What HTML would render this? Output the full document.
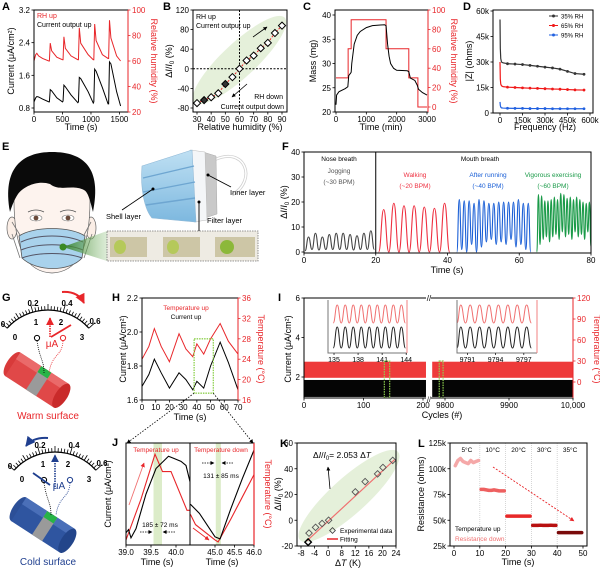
<!DOCTYPE html>
<html><head><meta charset="utf-8"><style>
html,body{margin:0;padding:0;background:#fff}
svg{display:block;font-family:"Liberation Sans",Arial,sans-serif}
</style></head><body>
<svg id="fig" width="600" height="570" viewBox="0 0 600 570" xmlns="http://www.w3.org/2000/svg">
<defs>
<marker id="ahK" viewBox="0 0 10 10" refX="9" refY="5" markerWidth="5" markerHeight="5" orient="auto"><path d="M0,0L10,5L0,10z" fill="#000"/></marker>
<marker id="ahR" viewBox="0 0 10 10" refX="9" refY="5" markerWidth="5" markerHeight="5" orient="auto"><path d="M0,0L10,5L0,10z" fill="#e8262a"/></marker>
<marker id="ahB" viewBox="0 0 10 10" refX="9" refY="5" markerWidth="5" markerHeight="5" orient="auto"><path d="M0,0L10,5L0,10z" fill="#1f3f8f"/></marker>
<linearGradient id="cone" x1="0" x2="1"><stop offset="0" stop-color="#2f7d22" stop-opacity="0.9"/><stop offset="1" stop-color="#8cbf7a" stop-opacity="0.3"/></linearGradient>
<linearGradient id="shell" x1="0" y1="0" x2="0" y2="1"><stop offset="0" stop-color="#bfe0f3"/><stop offset="1" stop-color="#7db8df"/></linearGradient>
</defs>

<g>
<text x="2" y="150" font-size="11" font-weight="bold">E</text>
<ellipse cx="12" cy="228" rx="5" ry="11" fill="#fbeee6" stroke="#666" stroke-width="0.7"/>
<ellipse cx="91" cy="228" rx="5" ry="11" fill="#fbeee6" stroke="#666" stroke-width="0.7"/>
<path d="M14,200 C14,252 28,272 52,273 C76,272 90,252 90,200 C90,185 72,178 52,178 C32,178 14,185 14,200Z" fill="#fdf3ee" stroke="#666" stroke-width="0.7"/>
<path d="M10,212 C2,168 22,152 52,152 C84,152 102,168 93,212 C90,200 88,192 84,190 C72,184 60,192 50,184 C38,180 24,186 18,194 C14,200 12,206 10,212Z" fill="#0a0a0a"/>
<path d="M28,212 Q36,208 44,212 M60,212 Q68,208 76,212" stroke="#555" fill="none" stroke-width="0.8"/>
<ellipse cx="36" cy="218" rx="6" ry="3" fill="#fff" stroke="#777" stroke-width="0.6"/>
<circle cx="36" cy="218" r="2.4" fill="#6b4a3a"/>
<ellipse cx="68" cy="218" rx="6" ry="3" fill="#fff" stroke="#777" stroke-width="0.6"/>
<circle cx="68" cy="218" r="2.4" fill="#6b4a3a"/>
<path d="M20,235 L12,222 M84,235 L91,222 M20,258 L12,234 M84,258 L92,234" stroke="#777" stroke-width="0.8" fill="none"/>
<path d="M19,236 C34,226 70,226 85,236 L82,258 C70,272 36,272 22,258 Z" fill="#a9d2ec" stroke="#555" stroke-width="0.8"/>
<path d="M21,242 C38,234 66,234 83,242 M21,250 C38,243 66,243 83,250 M22,258 C38,252 66,252 82,258" stroke="#556" stroke-width="1" fill="none"/>
<polygon points="63,247 107,231 107,261" fill="url(#cone)"/>
<circle cx="63" cy="247" r="3.5" fill="#3a8a25"/>
<rect x="107" y="231" width="151" height="30" fill="#eeebe3" stroke="#777" stroke-dasharray="1.5,1" stroke-width="0.8"/>
<rect x="110" y="237" width="37" height="20" fill="#cdc6a6"/>
<rect x="163" y="237" width="37" height="20" fill="#cdc6a6"/>
<rect x="215" y="237" width="40" height="20" fill="#cdc6a6"/>
<ellipse cx="120" cy="247" rx="6" ry="7" fill="#b5c95a"/>
<ellipse cx="173" cy="247" rx="6" ry="7" fill="#b5c95a"/>
<ellipse cx="227" cy="247" rx="7" ry="7" fill="#8cb83a"/>
<path d="M214,160 C245,145 258,180 232,195" stroke="#cfcfcf" stroke-width="3" fill="none"/>
<path d="M214,160 C245,145 258,180 232,195" stroke="#fff" stroke-width="1.5" fill="none"/>
<polygon points="203,152 216,156 217,214 205,218" fill="#c9c9c9" stroke="#aaa" stroke-width="0.5"/>
<polygon points="190,150 205,152 207,220 194,222" fill="#f4f6f8" stroke="#bbb" stroke-width="0.5"/>
<path d="M142,166 L192,150 L196,222 L152,218 C145,210 140,190 142,166Z" fill="url(#shell)" stroke="#8fb8d6" stroke-width="0.6"/>
<path d="M143,178 L194,166 M143,192 L195,182 M146,205 L195,198" stroke="#6ea6d1" stroke-width="1.4" fill="none"/>
<line x1="122" y1="210" x2="153" y2="189" stroke="#000" stroke-width="0.9"/><circle cx="153" cy="189" r="1.5" fill="#000"/>
<line x1="199" y1="202" x2="199" y2="231" stroke="#000" stroke-width="0.9"/><circle cx="199" cy="202" r="1.5" fill="#000"/>
<line x1="208" y1="175" x2="231" y2="187" stroke="#000" stroke-width="0.9"/><circle cx="208" cy="175" r="1.5" fill="#000"/>
<text x="106" y="219" font-size="7.5">Shell layer</text>
<text x="207" y="223" font-size="7.5">Filter layer</text>
<text x="230" y="195" font-size="7.5">Inner layer</text>
</g>

<g transform="translate(37,380) rotate(33)">
<ellipse cx="-29" cy="0" rx="6" ry="14" fill="#d83a3a"/>
<rect x="-29" y="-14" width="58" height="28" fill="#e04848"/>
<rect x="-29" y="-14" width="58" height="8" fill="#ea6a6a"/>
<rect x="-4" y="-14" width="12" height="28" fill="#9a9a9a"/>
<rect x="-4" y="-14" width="12" height="7" fill="#27b447"/>
<ellipse cx="29" cy="0" rx="6" ry="14" fill="#c92a2a"/>
</g>
<text x="48" y="419" font-size="10" fill="#e8262a" text-anchor="middle">Warm surface</text>
<g transform="translate(43,525) rotate(33)">
<ellipse cx="-29" cy="0" rx="6" ry="14" fill="#2c4f97"/>
<rect x="-29" y="-14" width="58" height="28" fill="#2f55a0"/>
<rect x="-29" y="-14" width="58" height="8" fill="#4a6fb8"/>
<rect x="-4" y="-14" width="12" height="28" fill="#9a9a9a"/>
<rect x="-4" y="-14" width="12" height="7" fill="#27b447"/>
<ellipse cx="29" cy="0" rx="6" ry="14" fill="#23458a"/>
</g>
<text x="48" y="565" font-size="10" fill="#1f3f8f" text-anchor="middle">Cold surface</text>
</svg>
<script>
const aTime=[0,30,50,80,150,260,270,285,310,400,500,510,525,550,650,770,780,795,820,950,1040,1050,1065,1090,1200,1300,1310,1325,1350,1450,1520];
const aCurrent=[0.95,1.05,1.08,1.07,1.02,0.95,0.95,1.25,1.22,1.05,0.95,0.97,1.36,1.32,1.12,0.93,0.95,1.55,1.52,1.2,0.92,0.95,1.75,1.7,1.3,0.9,0.9,1.93,1.88,1.2,0.85];
const aRH=[60,65,66,64,62,60,60,74,68,63,61,61,79,70,64,61,61,86,74,65,61,61,89,76,65,62,62,92,78,64,60];
const bRH=[30,35,40,45,50,55,60,65,70,75,80,85,90];
const bChange=[-70,-64,-58,-50,-31,-17,0,17,27,42,53,73,88];
const cRhT=[0,400,500,1650,2400,2700,3000];
const cRhV=[30,60,90,60,30,0];
const cMassT=[0,20,100,300,390,420,480,500,520,600,700,800,1000,1200,1600,1650,1700,1750,1800,1900,2000,2350,2400,2450,2600,2680,2720,2850,3000];
const cMass=[21.5,23.5,24.2,24.8,25.2,27.5,28,28.2,30,34,35.8,36.6,37.4,37.8,38,37.8,34,31.5,30,29,28.6,28.5,28.3,27,26.5,25.5,24.7,24,23.5];
const dFreq=[100,2000,5000,10000,20000,50000,100000,150000,200000,250000,300000,350000,400000,450000,500000,560000];
const dZ35=[55000,38000,32000,30000,29500,29000,28800,28500,28000,27500,27000,26500,25800,24500,23200,22800];
const dZ65=[30000,20000,17000,16000,15500,15200,15000,14800,14600,14500,14300,14100,14000,13800,13600,13500];
const dZ95=[6500,4500,3500,3000,2900,2800,2700,2700,2600,2600,2600,2500,2500,2500,2500,2500];
const fSegStart=[0.3,20.8,42.6,64.9];
const fSegEnd=[19.6,40.6,63.2,80];
const fPeaksGray=[6,7.5,6,7,7.5,7.5,7,6.5,7.5,8.5];
const fPeaksRed=[17,19.5,18.5,18.5,18,17.5,19.5];
const fPeaksBlue=[21,20.5,20.5,19.5,21,20.5,19.5,19.5,20,20,20,20,21,19.5,19.5];
const fPeaksGreen=[23,22.5,20.5,20.5,21,22,21,23.5,23,21.5,22,21,22,21,20,19.5,20];
const fTroughGray=[0.5,1,0.8,1,1,1,1,0.8,1,1,1];
const fTroughRed=[0,0,0,0,0,0,0,0];
const fTroughBlue=[0,1,0,3,0,2,4,5,3,4,3,5,2,3,1,0];
const fTroughGreen=[0,3,5,6,4,6,7,5,8,6,7,5,8,6,7,5,8,2];
const hT=[0,5,9,14,20,27,32,37,40,45,50,57,63,70];
const hTemp=[24,26.5,30,26.5,23.5,29,26,24.5,27,25,28,31,27.5,25];
const hCur=[1.68,1.75,1.84,1.76,1.67,1.76,1.72,1.66,1.71,1.67,1.8,1.94,1.82,1.66];
const hZoomT=[38,52];
const iSeg1=[0,205];
const iSeg2=[9780,10000];
const iTempBand=[6,29];
const iCurBand=[0.99,1.85];
const iZoom1=[135,144];
const iZoom2=[9791,9797];
const iInsetPeaksL=[135.4,136.4,137.4,138.4,139.4,140.4,141.4,142.4,143.4];
const iInsetPeaksR=[9790.3,9791.3,9792.3,9793.3,9794.3,9795.3,9796.3,9797.3];
const jLeftT=[39.0,39.05,39.1,39.2,39.4,39.6,39.85,39.95,40.1,40.2,40.28];
const jLeftCur=[0.12,0.15,0.07,0.16,0.5,0.75,0.87,0.85,0.82,0.78,0.62];
const jLeftTempT=[39.0,39.3,39.58,39.73,39.9,40.22,40.28];
const jLeftTemp=[0.05,0.45,0.89,0.72,0.72,0.34,0.34];
const jRightT=[44.37,44.6,45.0,45.13,45.4,45.7,46.0];
const jRightCur=[0.40,0.31,0.08,0.06,0.35,0.65,0.93];
const jRightTempT=[44.37,44.5,45.0,45.08,45.4,45.7,46.0];
const jRightTemp=[0.30,0.20,0.05,0.03,0.25,0.47,0.69];
const kDT=[-5.6,-5.3,-3.1,-0.9,1.3,10.3,13.6,17.8,19.6,22.9];
const kChange=[-17,-10,-5.5,-2.5,0,22,30,36,41,46.5];
const kFitX=[-6,23.5];
const kFitY=[-16,47];
const kTickLabels=['-8','-4','0','8','12','16','20','24'];
const lSegStart=[0.5,10.5,20.5,30.5,40.5];
const lOffsets=[0,1,2,3,4,5,6,7,8,9];
const lRes=[[103000,108000,110000,107000,106000,105000,108000,106000,107000,108000],
 [80000,80000,79500,79000,79000,79500,79000,78500,78500,78500],
 [54000,54000,54000,54000,54000,54000,54000,54000,54000,54000],
 [45000,45000,45000,45200,45000,45000,45000,45200,45000,45000],
 [38000,38000,38000,38000,38000,38000,38000,38000,38000,38000]];
const lTempLabels=['5°C','10°C','20°C','30°C','35°C'];

const NS='http://www.w3.org/2000/svg';
const svg=document.getElementById('fig');
const RED='#e8262a', BLUE='#1f5fd0', GREEN='#1e9a4a', NAVY='#1f3f8f';
function mk(tag,attrs,name,parent){
  const el=document.createElementNS(NS,tag);
  for(const k in attrs) el.setAttribute(k,attrs[k]);
  
  
  (parent||svg).appendChild(el);
  return el;
}
function tx(x,y,s,name,o){
  o=o||{};
  const el=mk('text',{x:x,y:y,'font-size':o.fs||8,'text-anchor':o.a||'middle',fill:o.c||'#000','font-weight':o.w||'normal'},name);
  if(o.rot) el.setAttribute('transform','rotate('+o.rot+' '+x+' '+y+')');
  if(o.html) el.innerHTML=s; else el.textContent=s;
  return el;
}
const lin=(d0,d1,r0,r1)=>v=>r0+(v-d0)*(r1-r0)/(d1-d0);
function poly(xs,ys,sx,sy){return xs.map((v,i)=>(i?'L':'M')+sx(v).toFixed(2)+','+sy(ys[i]).toFixed(2)).join('');}
function frame(l,t,r,b,name){mk('rect',{x:l,y:t,width:r-l,height:b-t,fill:'none',stroke:'#000','stroke-width':1},name);}
function ticksY(x,vals,sc,labs,side,color,name){
  color=color||'#000';
  vals.forEach((v,i)=>{
    const y=sc(v);
    mk('line',{x1:x,x2:x+side*2.5,y1:y,y2:y,stroke:color,'stroke-width':0.8},name+'-tick');
    tx(x+side*4,y+3,labs[i],name+'-label',{a:side<0?'end':'start',c:color});
  });
}
function ticksX(y,vals,sc,labs,name){
  vals.forEach((v,i)=>{
    const x=sc(v);
    mk('line',{x1:x,x2:x,y1:y,y2:y+2.5,stroke:'#000','stroke-width':0.8},name+'-tick');
    tx(x,y+10,labs[i],name+'-label');
  });
}
function osc(start,end,peaks,troughs,sx,sy){
  const n=peaks.length, p=(end-start)/n;
  let d='M'+sx(start).toFixed(2)+','+sy(troughs[0]).toFixed(2);
  let px=start, py=troughs[0];
  for(let i=0;i<n;i++){
    const pts=[[start+(i+0.5)*p,peaks[i]],[start+(i+1)*p,troughs[i+1]]];
    pts.forEach(q=>{
      const x0=sx(px),y0=sy(py),x1=sx(q[0]),y1=sy(q[1]),dx=(x1-x0)/2;
      d+='C'+(x0+dx).toFixed(2)+','+y0.toFixed(2)+' '+(x1-dx).toFixed(2)+','+y1.toFixed(2)+' '+x1.toFixed(2)+','+y1.toFixed(2);
      px=q[0];py=q[1];
    });
  }
  return d;
}
function label(x,y,s,name){tx(x,y,s,name,{fs:11,w:'bold',a:'start'});}

(function(){
  const sx=lin(0,1650,34,128), sy=lin(0.8,3.2,108,10), sy2=lin(20,100,112,10);
  label(2,10,'A','panel-label-a');
  mk('path',{d:poly(aTime,aRH,sx,sy2),fill:'none',stroke:RED,'stroke-width':1},'a-humidity-line');
  mk('path',{d:poly(aTime,aCurrent,sx,sy),fill:'none',stroke:'#000','stroke-width':1},'a-current-line');
  frame(34,10,128,112,'a-plot-frame');
  mk('line',{x1:128,x2:128,y1:10,y2:112,stroke:RED,'stroke-width':1},'a-right-axis');
  ticksY(34,[0.8,1.6,2.4,3.2],sy,['0.8','1.6','2.4','3.2'],-1,'#000','a-y-axis');
  ticksY(128,[20,40,60,80,100],sy2,['20','40','60','80','100'],1,RED,'a-y2-axis');
  ticksX(112,[0,500,1000,1500],sx,['0','500','1000','1500'],'a-x-axis');
  tx(81,130,'Time (s)','a-x-axis-title',{fs:9});
  tx(14,61,'Current (μA/cm²)','a-y-axis-title',{fs:9,rot:-90});
  tx(151,61,'Relative humidity (%)','a-y2-axis-title',{fs:9,rot:90,c:RED});
  tx(37,18,'RH up','a-legend-rh',{fs:7,a:'start',c:RED});
  tx(37,27,'Current output up','a-legend-current',{fs:7,a:'start'});
})();

(function(){
  const sx=lin(30,90,197,282), sy=lin(-80,120,108,10);
  label(163,10,'B','panel-label-b');
  mk('ellipse',{cx:239.5,cy:60,rx:62,ry:17,fill:'#e5f0da',transform:'rotate(-43 239.5 60)'},'b-trend-ellipse');
  mk('line',{x1:sx(60),x2:sx(60),y1:10,y2:112,stroke:'#000','stroke-dasharray':'2,1.5','stroke-width':1},'b-x-ref-line');
  mk('line',{x1:193,x2:287,y1:sy(0),y2:sy(0),stroke:'#000','stroke-dasharray':'2,1.5','stroke-width':1},'b-y-ref-line');
  mk('path',{d:poly(bRH,bChange,sx,sy),fill:'none',stroke:RED,'stroke-dasharray':'2,1.5','stroke-width':1},'b-trend-line');
  bRH.forEach((v,i)=>{
    const x=sx(v),y=sy(bChange[i]);
    mk('rect',{x:x-2.5,y:y-2.5,width:5,height:5,fill:(i===1||i===4)?'#333':'#fff',stroke:'#000','stroke-width':1,transform:'rotate(45 '+x+' '+y+')'},'b-data-point');
  });
  frame(193,10,287,112,'b-plot-frame');
  ticksY(193,[-80,-40,0,40,80,120],sy,['-80','-40','0','40','80','120'],-1,'#000','b-y-axis');
  ticksX(112,[30,40,50,60,70,80,90],sx,['30','40','50','60','70','80','90'],'b-x-axis');
  tx(240,130,'Relative humidity (%)','b-x-axis-title',{fs:9});
  tx(172,61,'Δ<tspan font-style="italic">I</tspan>/<tspan font-style="italic">I</tspan><tspan font-size="6" dy="2">0</tspan><tspan dy="-2"> (%)</tspan>','b-y-axis-title',{fs:9,rot:-90,html:true});
  tx(196,19,'RH up','b-text-rh-up',{fs:7,a:'start'});
  tx(196,28,'Current output up','b-text-current-up',{fs:7,a:'start'});
  tx(283,99,'RH down','b-text-rh-down',{fs:7,a:'end'});
  tx(284,109,'Current output down','b-text-current-down',{fs:7,a:'end'});
  mk('line',{x1:253,y1:37,x2:267,y2:27,stroke:'#000','stroke-width':0.8,'marker-end':'url(#ahK)'},'b-up-arrow');
  mk('line',{x1:247,y1:84,x2:232,y2:97,stroke:'#000','stroke-width':0.8,'marker-end':'url(#ahK)'},'b-down-arrow');
})();

(function(){
  const sx=lin(0,3000,336,427), sy=lin(20,40,112,15), sy2=lin(0,100,107,10);
  label(303,10,'C','panel-label-c');
  let d='M'+sx(cRhT[0])+','+sy2(cRhV[0]);
  for(let i=0;i<cRhV.length;i++){ d+='H'+sx(cRhT[i+1]); if(i+1<cRhV.length) d+='V'+sy2(cRhV[i+1]); }
  mk('path',{d:d,fill:'none',stroke:RED,'stroke-width':1},'c-humidity-steps');
  mk('path',{d:poly(cMassT,cMass,sx,sy),fill:'none',stroke:'#000','stroke-width':1},'c-mass-line');
  frame(335,10,428,112,'c-plot-frame');
  mk('line',{x1:428,x2:428,y1:10,y2:112,stroke:RED,'stroke-width':1},'c-right-axis');
  ticksY(335,[20,25,30,35,40],sy,['20','25','30','35','40'],-1,'#000','c-y-axis');
  ticksY(428,[0,20,40,60,80,100],sy2,['0','20','40','60','80','100'],1,RED,'c-y2-axis');
  ticksX(112,[0,1000,2000,3000],sx,['0','1000','2000','3000'],'c-x-axis');
  tx(381,130,'Time (min)','c-x-axis-title',{fs:9});
  tx(316,61,'Mass (mg)','c-y-axis-title',{fs:9,rot:-90});
  tx(451,61,'Relative humidity (%)','c-y2-axis-title',{fs:9,rot:90,c:RED});
})();

(function(){
  const sx=lin(0,600000,500,590), sy=lin(0,60000,113,11);
  label(463,10,'D','panel-label-d');
  const ser=[[dZ35,'#333','d-35rh'],[dZ65,'#f01818','d-65rh'],[dZ95,'#2060e0','d-95rh']];
  ser.forEach(s=>{
    mk('path',{d:poly(dFreq,s[0],sx,sy),fill:'none',stroke:s[1],'stroke-width':1.2},s[2]+'-line');
    dFreq.forEach((f,i)=>{ if(i>=5) mk('circle',{cx:sx(f),cy:sy(s[0][i]),r:1.4,fill:s[1]},s[2]+'-marker'); });
  });
  frame(493,10,593,113,'d-plot-frame');
  ticksY(493,[0,15000,30000,45000,60000],sy,['0','15k','30k','45k','60k'],-1,'#000','d-y-axis');
  ticksX(113,[0,150000,300000,450000,600000],sx,['0','150k','300k','450k','600k'],'d-x-axis');
  tx(545,130,'Frequency (Hz)','d-x-axis-title',{fs:9});
  tx(472,61,'|Z| (ohms)','d-y-axis-title',{fs:9,rot:-90});
  const leg=[['35% RH','#333'],['65% RH','#f01818'],['95% RH','#2060e0']];
  leg.forEach((l,i)=>{
    const y=16+i*9.5;
    mk('line',{x1:549,x2:558,y1:y,y2:y,stroke:l[1],'stroke-width':1},'d-legend-line');
    mk('circle',{cx:553.5,cy:y,r:1.5,fill:l[1]},'d-legend-marker');
    tx(561,y+2.5,l[0],'d-legend-label',{fs:6,a:'start'});
  });
})();

(function(){
  const sx=lin(0,80,304,591), sy=lin(0,40,252,152);
  label(282,150,'F','panel-label-f');
  const segs=[[fPeaksGray,fTroughGray,'#444','f-nose-jogging'],[fPeaksRed,fTroughRed,'#ee3040','f-walking'],[fPeaksBlue,fTroughBlue,'#1a5fd6','f-after-running'],[fPeaksGreen,fTroughGreen,'#1a9a48','f-vigorous']];
  segs.forEach((s,i)=>{
    mk('path',{d:osc(fSegStart[i],fSegEnd[i],s[0],s[1],sx,sy),fill:'none',stroke:s[2],'stroke-width':1.1},s[3]+'-signal');
  });
  mk('line',{x1:sx(20),x2:sx(20),y1:152,y2:253,stroke:'#000','stroke-width':1},'f-divider');
  frame(304,152,591,253,'f-plot-frame');
  ticksY(304,[0,10,20,30,40],sy,['0','10','20','30','40'],-1,'#000','f-y-axis');
  ticksX(253,[0,20,40,60,80],sx,['0','20','40','60','80'],'f-x-axis');
  tx(447,273,'Time (s)','f-x-axis-title',{fs:9});
  tx(287,202,'Δ<tspan font-style="italic">I</tspan>/<tspan font-style="italic">I</tspan><tspan font-size="6" dy="2">0</tspan><tspan dy="-2"> (%)</tspan>','f-y-axis-title',{fs:9,rot:-90,html:true});
  tx(339,161,'Nose breath','f-nose-label',{fs:6.5});
  tx(480,161,'Mouth breath','f-mouth-label',{fs:6.5});
  tx(339,173,'Jogging','f-jogging-label',{fs:6.5,c:'#555'});
  tx(339,184,'(~30 BPM)','f-jogging-bpm',{fs:6.5,c:'#555'});
  tx(415,177,'Walking','f-walking-label',{fs:6.5,c:'#ee3040'});
  tx(415,188,'(~20 BPM)','f-walking-bpm',{fs:6.5,c:'#ee3040'});
  tx(488,177,'After running','f-running-label',{fs:6.5,c:'#1a5fd6'});
  tx(488,188,'(~40 BPM)','f-running-bpm',{fs:6.5,c:'#1a5fd6'});
  tx(553,177,'Vigorous exercising','f-vigorous-label',{fs:6.5,c:'#1a9a48'});
  tx(553,188,'(~60 BPM)','f-vigorous-bpm',{fs:6.5,c:'#1a9a48'});
})();

function gauge(cx,cy,col,warm,name){
  const r=55, a0=138, a1=42, n=30;
  const pt=(a,rr)=>[cx+rr*Math.cos(a*Math.PI/180), cy-rr*Math.sin(a*Math.PI/180)];
  const s=pt(a0,r), e=pt(a1,r);
  mk('path',{d:'M'+s[0]+','+s[1]+' A'+r+','+r+' 0 0 1 '+e[0]+','+e[1],fill:'none',stroke:'#000','stroke-width':1.2},name+'-arc');
  for(let i=0;i<=n;i++){
    const a=a0+(a1-a0)*i/n, len=(i%10===0)?8:(i%5===0?6:4);
    const p=pt(a,r), q=pt(a,r+len);
    mk('line',{x1:p[0],y1:p[1],x2:q[0],y2:q[1],stroke:'#000','stroke-width':0.8},name+'-tick');
  }
  const outer=['0','0.2','0.4','0.6'], inner=['0','1','2','3'];
  const odx=[-45,-15,19,47], ody=[-38,-59,-59,-41], idx=[-33,-12,13,34], idy=[-25,-40,-40,-25];
  outer.forEach((t,i)=>tx(cx+odx[i],cy+ody[i],t,name+'-outer-label',{fs:8,w:'bold'}));
  inner.forEach((t,i)=>tx(cx+idx[i],cy+idy[i],t,name+'-inner-label',{fs:8,w:'bold'}));
  tx(cx+4,cy-18,'μA',name+'-unit',{fs:10,c:col});
  mk('circle',{cx:cx-11,cy:cy-27,r:2.6,fill:'#fff',stroke:'#000','stroke-width':1},name+'-terminal-neg');
  mk('circle',{cx:cx+15,cy:cy-27,r:2.6,fill:'#fff',stroke:col,'stroke-width':1},name+'-terminal-pos');
  mk('path',{d:'M'+(cx-11)+','+(cy-24)+' C'+(cx-8)+','+(cy-5)+' '+(cx-4)+','+(cy-5)+' '+(cx-4)+','+(cy+8),fill:'none',stroke:'#000','stroke-width':0.8,'stroke-dasharray':'1,1'},name+'-wire-neg');
  mk('path',{d:'M'+(cx+15)+','+(cy-24)+' C'+(cx+14)+','+(cy-8)+' '+(cx+4)+','+(cy-12)+' '+(cx+1)+','+(cy+8),fill:'none',stroke:col,'stroke-width':0.8,'stroke-dasharray':'1,1'},name+'-wire-pos');
  if(warm){
    mk('line',{x1:cx+2,y1:cy-28,x2:cx+2,y2:cy-47,stroke:col,'stroke-width':1.6,'stroke-dasharray':'1.5,1','marker-end':'url(#ahR)'},name+'-baseline-arrow');
    mk('line',{x1:cx+3,y1:cy-28,x2:cx+23,y2:cy-40,stroke:col,'stroke-width':1.8},name+'-pointer');
    mk('path',{d:'M'+(cx+14)+','+(cy-73)+' Q'+(cx+30)+','+(cy-74)+' '+(cx+36)+','+(cy-62),fill:'none',stroke:col,'stroke-width':2,'marker-end':'url(#ahR)'},name+'-direction-arrow');
  } else {
    mk('line',{x1:cx,y1:cy-20,x2:cx,y2:cy-52,stroke:col,'stroke-width':1.6,'stroke-dasharray':'1.5,1','marker-end':'url(#ahB)'},name+'-baseline-arrow');
    mk('line',{x1:cx-5,y1:cy-22,x2:cx-22,y2:cy-34,stroke:col,'stroke-width':1.8},name+'-pointer');
    mk('path',{d:'M'+(cx-7)+','+(cy-69)+' Q'+(cx-22)+','+(cy-70)+' '+(cx-29)+','+(cy-61),fill:'none',stroke:col,'stroke-width':2,'marker-end':'url(#ahB)'},name+'-direction-arrow');
  }
}
label(2,301,'G','panel-label-g');
gauge(48,365,RED,true,'warm-gauge');
gauge(55,507,NAVY,false,'cold-gauge');

(function(){
  const sx=lin(0,70,142,238), sy=lin(1.6,2.2,400,298), sy2=lin(16,36,400,298);
  label(112,301,'H','panel-label-h');
  mk('path',{d:poly(hT,hTemp,sx,sy2),fill:'none',stroke:RED,'stroke-width':1},'h-temperature-line');
  mk('path',{d:poly(hT,hCur,sx,sy),fill:'none',stroke:'#000','stroke-width':1},'h-current-line');
  const x0=sx(hZoomT[0]), x1=sx(hZoomT[1]), y0=sy2(28), y1=sy(1.64);
  mk('rect',{x:x0,y:y0,width:x1-x0,height:y1-y0,fill:'none',stroke:'#8fd14f','stroke-width':1.3,'stroke-dasharray':'1.5,1'},'h-zoom-box');
  frame(142,298,238,400,'h-plot-frame');
  mk('line',{x1:238,x2:238,y1:298,y2:400,stroke:RED,'stroke-width':1},'h-right-axis');
  ticksY(142,[1.6,1.8,2.0,2.2],sy,['1.6','1.8','2.0','2.2'],-1,'#000','h-y-axis');
  ticksY(238,[16,20,24,28,32,36],sy2,['16','20','24','28','32','36'],1,RED,'h-y2-axis');
  ticksX(400,[0,10,20,30,40,50,60,70],sx,['0','10','20','30','40','50','60','70'],'h-x-axis');
  tx(190,420,'Time (s)','h-x-axis-title',{fs:9});
  tx(126,349,'Current (μA/cm²)','h-y-axis-title',{fs:9,rot:-90});
  tx(258,349,'Temperature (°C)','h-y2-axis-title',{fs:9,rot:90,c:RED});
  tx(186,310,'Temperature up','h-legend-temp',{fs:6.5,c:RED});
  tx(186,319,'Current up','h-legend-current',{fs:6.5});
  mk('line',{x1:x0,y1:y1,x2:127,y2:443,stroke:'#000','stroke-width':0.8,'stroke-dasharray':'1.5,1.5','marker-end':'url(#ahK)'},'h-to-j-zoom-line-left');
  mk('line',{x1:x1,y1:y1,x2:253,y2:443,stroke:'#000','stroke-width':0.8,'stroke-dasharray':'1.5,1.5','marker-end':'url(#ahK)'},'h-to-j-zoom-line-right');
})();

(function(){
  const sx1=lin(0,200,304,423), sx2=lin(9800,10000,445,573), sy=lin(2,6,377,298), sy2=lin(0,120,382,298);
  label(278,301,'I','panel-label-i');
  [[iSeg1,sx1,'left'],[iSeg2,sx2,'right']].forEach(s=>{
    const xa=s[1](s[0][0]), xb=s[1](s[0][1]);
    mk('rect',{x:xa,y:sy2(iTempBand[1]),width:xb-xa,height:sy2(iTempBand[0])-sy2(iTempBand[1]),fill:'#ee3a3a'},'i-temperature-band-'+s[2]);
    mk('rect',{x:xa,y:sy(iCurBand[1]),width:xb-xa,height:sy(iCurBand[0])-sy(iCurBand[1]),fill:'#050505'},'i-current-band-'+s[2]);
  });
  [[iZoom1,sx1],[iZoom2,sx2]].forEach(z=>{
    const xa=z[1](z[0][0]), xb=z[1](z[0][1]);
    mk('rect',{x:xa,y:sy2(30),width:xb-xa,height:sy(0.95)-sy2(30),fill:'none',stroke:'#8fd14f','stroke-width':1.2,'stroke-dasharray':'1.5,1'},'i-zoom-box');
  });
  frame(304,298,573,398,'i-plot-frame');
  mk('line',{x1:573,x2:573,y1:298,y2:398,stroke:RED,'stroke-width':1},'i-right-axis');
  mk('rect',{x:426,y:295,width:5,height:6,fill:'#fff'},'i-axis-break-top');
  mk('rect',{x:426,y:395,width:5,height:6,fill:'#fff'},'i-axis-break-bottom');
  tx(429,301,'//','i-break-mark-top',{fs:8});
  tx(429,402,'//','i-break-mark-bottom',{fs:7});
  ticksY(304,[2,4,6],sy,['2','4','6'],-1,'#000','i-y-axis');
  ticksY(573,[0,30,60,90,120],sy2,['0','30','60','90','120'],1,RED,'i-y2-axis');
  ticksX(398,[0,100,200],sx1,['0','100','200'],'i-x-axis-left');
  ticksX(398,[9800,9900,10000],sx2,['9800','9900','10,000'],'i-x-axis-right');
  tx(442,418,'Cycles (#)','i-x-axis-title',{fs:9});
  tx(291,349,'Current (μA/cm²)','i-y-axis-title',{fs:9,rot:-90});
  tx(594,349,'Temperature (°C)','i-y2-axis-title',{fs:9,rot:90,c:RED});
  const insets=[[328,407,134.25,144.1,iInsetPeaksL,[135,138,141,144],['135','138','141','144'],'i-inset-left'],
                [457,537,9789.9,9798.4,iInsetPeaksR,[9791,9794,9797],['9791','9794','9797'],'i-inset-right']];
  insets.forEach(s=>{
    const ix=lin(s[2],s[3],s[0],s[1]);
    mk('rect',{x:s[0],y:300,width:s[1]-s[0],height:53,fill:'#fff'},s[7]+'-background');
    const pk=s[4], rp=[], rt=[], cp=[], ct=[];
    pk.forEach(()=>{rp.push(1);cp.push(1);rt.push(0);ct.push(0);});
    rt.push(0);ct.push(0);
    const per=pk[1]-pk[0], st=pk[0]-per/2, en=st+per*pk.length;
    const yr=lin(0,1,323,305), yc=lin(0,1,348,327);
    const xc=v=>ix(Math.max(s[2],Math.min(s[3],v)));
    mk('path',{d:osc(st,en,rp,rt,xc,yr),fill:'none',stroke:'#f07070','stroke-width':1},s[7]+'-temperature-wave');
    mk('path',{d:osc(st,en,cp,ct,xc,yc),fill:'none',stroke:'#222','stroke-width':1},s[7]+'-current-wave');
    mk('path',{d:'M'+s[0]+',300 V353 H'+s[1],fill:'none',stroke:'#777','stroke-width':1},s[7]+'-axes');
    mk('line',{x1:s[1],x2:s[1],y1:300,y2:353,stroke:'#f08080','stroke-width':1},s[7]+'-right-edge');
    s[5].forEach((v,i)=>{
      mk('line',{x1:ix(v),x2:ix(v),y1:353,y2:355,stroke:'#000','stroke-width':0.7},s[7]+'-tick');
      tx(ix(v),362,s[6][i],s[7]+'-tick-label',{fs:7});
    });
  });
})();

(function(){
  const sx1=lin(39,40,126,176), sx2=lin(45,46,215,254), sy=lin(0,1,545,443);
  label(112,446,'J','panel-label-j');
  mk('rect',{x:sx1(39.55),y:443,width:sx1(39.72)-sx1(39.55),height:102,fill:'#dcecc9'},'j-shade-left');
  mk('rect',{x:sx2(45.02),y:443,width:sx2(45.15)-sx2(45.02),height:102,fill:'#dcecc9'},'j-shade-right');
  mk('path',{d:poly(jLeftTempT,jLeftTemp,sx1,sy),fill:'none',stroke:RED,'stroke-width':1.1},'j-left-temperature-line');
  mk('path',{d:poly(jLeftT,jLeftCur,sx1,sy),fill:'none',stroke:'#000','stroke-width':1.1},'j-left-current-line');
  mk('path',{d:poly(jRightTempT,jRightTemp,sx2,sy),fill:'none',stroke:RED,'stroke-width':1.1},'j-right-temperature-line');
  mk('path',{d:poly(jRightT,jRightCur,sx2,sy),fill:'none',stroke:'#000','stroke-width':1.1},'j-right-current-line');
  frame(126,443,254,545,'j-plot-frame');
  mk('line',{x1:190,x2:190,y1:443,y2:545,stroke:'#000','stroke-width':1},'j-pane-divider');
  mk('line',{x1:254,x2:254,y1:443,y2:545,stroke:RED,'stroke-width':1.2},'j-right-axis');
  ticksX(545,[39.0,39.5,40.0],sx1,['39.0','39.5','40.0'],'j-x-axis-left');
  ticksX(545,[45.0,45.5,46.0],sx2,['45.0','45.5','46.0'],'j-x-axis-right');
  tx(157,565,'Time (s)','j-x-axis-title-left',{fs:9});
  tx(222,565,'Time (s)','j-x-axis-title-right',{fs:9});
  tx(111,494,'Current (μA/cm²)','j-y-axis-title',{fs:9,rot:-90});
  tx(265,494,'Temperature (°C)','j-y2-axis-title',{fs:9,rot:90,c:RED});
  tx(156,452,'Temperature up','j-temp-up-label',{fs:6.5,c:RED});
  tx(221,452,'Temperature down','j-temp-down-label',{fs:6.5,c:RED});
  tx(160,527,'185 ± 72 ms','j-rise-time-label',{fs:6.5});
  tx(221,478,'131 ± 85 ms','j-fall-time-label',{fs:6.5});
  mk('line',{x1:140,y1:532,x2:152,y2:532,stroke:'#000','stroke-width':0.8,'stroke-dasharray':'1.5,1','marker-end':'url(#ahK)'},'j-rise-arrow-left');
  mk('line',{x1:175,y1:532,x2:163,y2:532,stroke:'#000','stroke-width':0.8,'stroke-dasharray':'1.5,1','marker-end':'url(#ahK)'},'j-rise-arrow-right');
  mk('line',{x1:202,y1:463,x2:214,y2:463,stroke:'#000','stroke-width':0.8,'stroke-dasharray':'1.5,1','marker-end':'url(#ahK)'},'j-fall-arrow-left');
  mk('line',{x1:233,y1:463,x2:222,y2:463,stroke:'#000','stroke-width':0.8,'stroke-dasharray':'1.5,1','marker-end':'url(#ahK)'},'j-fall-arrow-right');
  mk('line',{x1:129,y1:505,x2:144,y2:463,stroke:'#f07070','stroke-width':0.9,'marker-end':'url(#ahR)'},'j-up-trend-arrow');
  mk('line',{x1:193,y1:528,x2:209,y2:540,stroke:RED,'stroke-width':0.9,'marker-end':'url(#ahR)'},'j-down-trend-arrow');
})();

(function(){
  const sx=lin(-8,24,301,396), sy=lin(-20,60,546,443);
  label(280,447,'K','panel-label-k');
  mk('ellipse',{cx:349,cy:496,rx:66,ry:18,fill:'#e5f0da',transform:'rotate(-42 349 496)'},'k-trend-ellipse');
  mk('path',{d:poly(kFitX,kFitY,sx,sy),fill:'none',stroke:'#f07070','stroke-width':1.2},'k-fit-line');
  kDT.forEach((v,i)=>{
    const x=sx(v),y=sy(kChange[i]);
    mk('rect',{x:x-2.3,y:y-2.3,width:4.6,height:4.6,fill:'none',stroke:i===0?'#000':'#555','stroke-width':i===0?1.4:0.9,transform:'rotate(45 '+x+' '+y+')'},'k-data-point');
  });
  frame(297,443,396,546,'k-plot-frame');
  ticksY(297,[-20,0,20,40,60],sy,['-20','0','20','40','60'],-1,'#000','k-y-axis');
  kTickLabels.forEach((t,i)=>{
    const x=301+i*(396-301)/7;
    mk('line',{x1:x,x2:x,y1:546,y2:548.5,stroke:'#000','stroke-width':0.8},'k-x-axis-tick');
    tx(x,556,t,'k-x-axis-label');
  });
  tx(348,566,'Δ<tspan font-style="italic">T</tspan> (K)','k-x-axis-title',{fs:9,html:true});
  tx(281,494,'Δ<tspan font-style="italic">I</tspan>/<tspan font-style="italic">I</tspan><tspan font-size="6" dy="2">0</tspan><tspan dy="-2"> (%)</tspan>','k-y-axis-title',{fs:9,rot:-90,html:true});
  tx(313,458,'Δ<tspan font-style="italic">I</tspan>/<tspan font-style="italic">I</tspan><tspan font-size="6" dy="2">0</tspan><tspan dy="-2">= 2.053 Δ</tspan><tspan font-style="italic">T</tspan>','k-equation',{fs:8.5,a:'start',html:true});
  mk('line',{x1:330,y1:489,x2:328,y2:467,stroke:'#000','stroke-width':0.8,'marker-end':'url(#ahK)'},'k-arrow');
  mk('rect',{x:330.5,y:528.5,width:4,height:4,fill:'none',stroke:'#444','stroke-width':0.9,transform:'rotate(45 332.5 530.5)'},'k-legend-marker');
  tx(340,533,'Experimental data','k-legend-data',{fs:6.5,a:'start'});
  mk('line',{x1:327,x2:338,y1:539,y2:539,stroke:RED,'stroke-width':1.5},'k-legend-line');
  tx(340,541.5,'Fitting','k-legend-fit',{fs:6.5,a:'start'});
})();

(function(){
  const sx=lin(0,50,454,583), sy=lin(25000,125000,546,443);
  label(418,447,'L','panel-label-l');
  [10,20,30,40].forEach(v=>mk('line',{x1:sx(v),x2:sx(v),y1:443,y2:546,stroke:'#ccc','stroke-width':0.8,'stroke-dasharray':'1,1'},'l-segment-divider'));
  const cols=['#f5a8a8','#ee6060','#e82828','#b81010','#7a0a0a'];
  lRes.forEach((seg,i)=>{
    const ts=lOffsets.map(o=>lSegStart[i]+o);
    mk('path',{d:poly(ts,seg,sx,sy),fill:'none',stroke:cols[i],'stroke-width':3.5,'stroke-linecap':'round','stroke-linejoin':'round'},'l-resistance-segment');
    tx((sx(i*10)+sx(i*10+10))/2,452,lTempLabels[i],'l-temperature-label',{fs:6.5});
  });
  frame(450,443,587,546,'l-plot-frame');
  ticksY(450,[25000,50000,75000,100000,125000],sy,['25k','50k','75k','100k','125k'],-1,'#000','l-y-axis');
  ticksX(546,[0,10,20,30,40,50],sx,['0','10','20','30','40','50'],'l-x-axis');
  tx(518,565,'Time (s)','l-x-axis-title',{fs:9});
  tx(424,494,'Resistance (ohms)','l-y-axis-title',{fs:9,rot:-90});
  tx(455,531,'Temperature up','l-legend-temp',{fs:6.5,a:'start'});
  tx(455,541,'Resistance down','l-legend-resistance',{fs:6.5,a:'start',c:'#f07070'});
  mk('line',{x1:493,y1:467,x2:574,y2:521,stroke:RED,'stroke-width':0.9,'stroke-dasharray':'2,1.5','marker-end':'url(#ahR)'},'l-trend-arrow');
})();
</script>
</body></html>
